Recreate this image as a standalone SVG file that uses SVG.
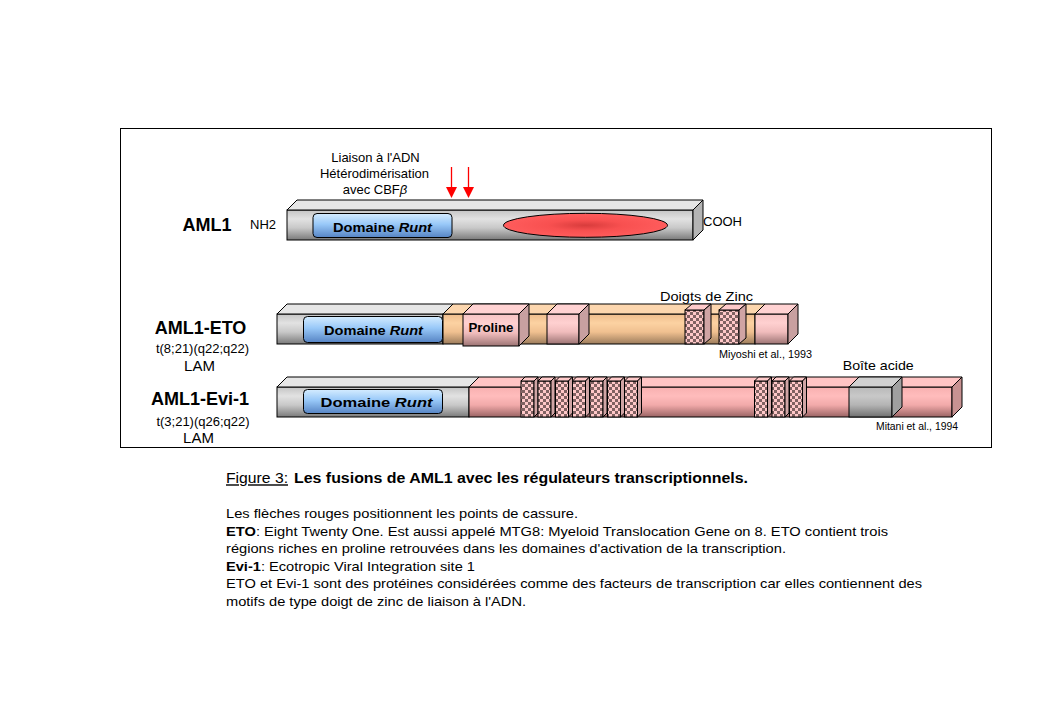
<svg xmlns="http://www.w3.org/2000/svg" width="1039" height="719" viewBox="0 0 1039 719">
<defs>
<style>
text{font-family:"Liberation Sans",Arial,sans-serif;fill:#000}
.e{stroke:#000;stroke-width:1;stroke-linejoin:miter}
.lbl{font-size:13px}
.ttl{font-size:18px;font-weight:bold}
.runt{font-size:13px;font-weight:bold}
.ref{font-size:11px}
.body{font-size:13px}
.gTop{fill:#e6e6e6}.gSide{fill:#b4b4b4}
.oTop{fill:#fcd6ae}.oSide{fill:#d0a880}
.pTop{fill:#ffd2d2}.pSide{fill:#c8a0a0}
.eTop{fill:#ffc4c4}.eSide{fill:#c89292}
.cTop{fill:#ffcaca}.cSide{fill:#d0a4a4}
.xTop{fill:#d0d0d0}.xSide{fill:#a0a0a0}
</style>
<linearGradient id="gGray" x1="0" y1="0" x2="0" y2="1">
<stop offset="0" stop-color="#c4c4c4"/><stop offset="0.3" stop-color="#e2e2e2"/><stop offset="0.6" stop-color="#c8c8c8"/><stop offset="1" stop-color="#7a7a7a"/>
</linearGradient>
<linearGradient id="gOrange" x1="0" y1="0" x2="0" y2="1">
<stop offset="0" stop-color="#eebc8c"/><stop offset="0.3" stop-color="#fcd2a2"/><stop offset="0.6" stop-color="#f0c090"/><stop offset="1" stop-color="#9c7c5c"/>
</linearGradient>
<linearGradient id="gPink" x1="0" y1="0" x2="0" y2="1">
<stop offset="0" stop-color="#f6c4c4"/><stop offset="0.3" stop-color="#ffd0d0"/><stop offset="0.6" stop-color="#f0bcbc"/><stop offset="1" stop-color="#9c7474"/>
</linearGradient>
<linearGradient id="gEvi" x1="0" y1="0" x2="0" y2="1">
<stop offset="0" stop-color="#f8b0b0"/><stop offset="0.3" stop-color="#ffbcbc"/><stop offset="0.6" stop-color="#f2aaaa"/><stop offset="1" stop-color="#9a6464"/>
</linearGradient>
<linearGradient id="gGreyBox" x1="0" y1="0" x2="0" y2="1">
<stop offset="0" stop-color="#b8b8b8"/><stop offset="0.3" stop-color="#c8c8c8"/><stop offset="0.6" stop-color="#b4b4b4"/><stop offset="1" stop-color="#707070"/>
</linearGradient>
<linearGradient id="gBlue" x1="0" y1="0" x2="0" y2="1">
<stop offset="0" stop-color="#d4ecff"/><stop offset="0.45" stop-color="#98c8f8"/><stop offset="1" stop-color="#5684c4"/>
</linearGradient>
<radialGradient id="gRed" cx="0.5" cy="0.5" r="0.5">
<stop offset="0" stop-color="#d83c3c"/><stop offset="0.45" stop-color="#f85050"/><stop offset="1" stop-color="#ff5c5c"/>
</radialGradient>
<pattern id="check" patternUnits="userSpaceOnUse" width="6" height="6">
<rect width="6" height="6" fill="#ffc8c8"/>
<rect width="3" height="3" fill="#806262"/>
<rect x="3" y="3" width="3" height="3" fill="#806262"/>
</pattern>
</defs>
<rect width="1039" height="719" fill="#fff"/>
<rect x="120.5" y="128.5" width="871" height="319" fill="none" stroke="#000" stroke-width="1"/>

<g id="labels">
<text class="lbl" x="375.5" y="161.7" text-anchor="middle">Liaison à l'ADN</text>
<text class="lbl" x="374.5" y="178.3" text-anchor="middle">Hétérodimérisation</text>
<text class="lbl" x="375" y="194" text-anchor="middle">avec CBF<tspan font-style="italic">β</tspan></text>
</g>

<g id="AML1">
<text class="ttl" x="207" y="231" text-anchor="middle">AML1</text>
<text class="lbl" x="250" y="229">NH2</text>
<text class="lbl" x="703" y="226">COOH</text>
<rect class="e" x="287" y="210" width="406" height="30" fill="url(#gGray)"/>
<polygon class="e gTop" points="287,210 297,200 703,200 693,210"/>
<polygon class="e gSide" points="693,210 703,200 703,230 693,240"/>
<rect class="e" x="313" y="213.5" width="139" height="24" rx="4" fill="url(#gBlue)" stroke="#1a2a40"/>
<text class="runt" x="333" y="231.5" font-size="14" textLength="99" lengthAdjust="spacingAndGlyphs">Domaine <tspan font-style="italic">Runt</tspan></text>
<ellipse class="e" cx="585.5" cy="225.3" rx="82" ry="12" fill="url(#gRed)"/>
</g>

<g id="AML1-ETO">
<text class="ttl" x="200.5" y="334.3" text-anchor="middle">AML1-ETO</text>
<text class="lbl" x="202.5" y="352.7" text-anchor="middle">t(8;21)(q22;q22)</text>
<text x="199.5" y="370.5" text-anchor="middle" font-size="15">LAM</text>
<rect class="e" x="277" y="314" width="166" height="30" fill="url(#gGray)"/>
<polygon class="e gTop" points="277,314 287,304 453,304 443,314"/>
<polygon class="e gSide" points="443,314 453,304 453,334 443,344"/>
<rect class="e" x="443" y="314" width="312" height="30" fill="url(#gOrange)"/>
<polygon class="e oTop" points="443,314 453,304 765,304 755,314"/>
<rect class="e" x="303.5" y="316.5" width="139" height="26" rx="4" fill="url(#gBlue)" stroke="#1a2a40"/>
<text class="runt" x="324" y="335" textLength="99" lengthAdjust="spacingAndGlyphs">Domaine <tspan font-style="italic">Runt</tspan></text>
<rect class="e" x="463" y="314" width="56" height="32" fill="url(#gPink)"/>
<polygon class="e pTop" points="463,314 473,304 529,304 519,314"/>
<polygon class="e pSide" points="519,314 529,304 529,336 519,346"/>
<text class="runt" x="468.5" y="332.3" textLength="45" lengthAdjust="spacingAndGlyphs">Proline</text>
<rect class="e" x="547" y="314" width="32" height="30" fill="url(#gPink)"/>
<polygon class="e pTop" points="547,314 557,304 589,304 579,314"/>
<polygon class="e pSide" points="579,314 589,304 589,334 579,344"/>
<rect class="e" x="685" y="310" width="19" height="34" fill="url(#check)"/>
<polygon class="e cTop" points="685,310 692,304 711,304 704,310"/>
<polygon class="e cSide" points="704,310 711,304 711,338 704,344"/>
<rect class="e" x="719" y="310" width="20" height="34" fill="url(#check)"/>
<polygon class="e cTop" points="719,310 726,304 746,304 739,310"/>
<polygon class="e cSide" points="739,310 746,304 746,338 739,344"/>
<rect class="e" x="755" y="314" width="33" height="30" fill="url(#gPink)"/>
<polygon class="e pTop" points="755,314 765,304 798,304 788,314"/>
<polygon class="e pSide" points="788,314 798,304 798,334 788,344"/>
<text class="lbl" x="660" y="300.7" textLength="93" lengthAdjust="spacingAndGlyphs">Doigts de Zinc</text>
<text class="ref" x="719" y="358" textLength="93" lengthAdjust="spacingAndGlyphs">Miyoshi et al., 1993</text>
</g>

<g id="AML1-Evi-1">
<text class="ttl" x="200" y="405" text-anchor="middle">AML1-Evi-1</text>
<text class="lbl" x="203" y="425.7" text-anchor="middle">t(3;21)(q26;q22)</text>
<text x="198.5" y="443.3" text-anchor="middle" font-size="15">LAM</text>
<rect class="e" x="277" y="387" width="192" height="30" fill="url(#gGray)"/>
<polygon class="e gTop" points="277,387 287,377 479,377 469,387"/>
<rect class="e" x="469" y="387" width="483" height="30" fill="url(#gEvi)"/>
<polygon class="e eTop" points="469,387 479,377 962,377 952,387"/>
<polygon class="e eSide" points="952,387 962,377 962,407 952,417"/>
<rect class="e" x="303.5" y="389.5" width="139" height="24" rx="4" fill="url(#gBlue)" stroke="#1a2a40"/>
<text class="runt" x="320.5" y="406.7" textLength="112" lengthAdjust="spacingAndGlyphs">Domaine <tspan font-style="italic">Runt</tspan></text>
<g id="evi-zinc-1">
<rect class="e" x="521" y="381" width="13" height="36" fill="url(#check)"/>
<polygon class="e cTop" points="521,381 525,377 538,377 534,381"/>
<polygon class="e cSide" points="534,381 538,377 538,413 534,417"/>
<rect class="e" x="538" y="381" width="13" height="36" fill="url(#check)"/>
<polygon class="e cTop" points="538,381 542,377 555,377 551,381"/>
<polygon class="e cSide" points="551,381 555,377 555,413 551,417"/>
<rect class="e" x="555.5" y="381" width="13" height="36" fill="url(#check)"/>
<polygon class="e cTop" points="555.5,381 559.5,377 572.5,377 568.5,381"/>
<polygon class="e cSide" points="568.5,381 572.5,377 572.5,413 568.5,417"/>
<rect class="e" x="572.5" y="381" width="13" height="36" fill="url(#check)"/>
<polygon class="e cTop" points="572.5,381 576.5,377 589.5,377 585.5,381"/>
<polygon class="e cSide" points="585.5,381 589.5,377 589.5,413 585.5,417"/>
<rect class="e" x="590" y="381" width="13" height="36" fill="url(#check)"/>
<polygon class="e cTop" points="590,381 594,377 607,377 603,381"/>
<polygon class="e cSide" points="603,381 607,377 607,413 603,417"/>
<rect class="e" x="607.5" y="381" width="13" height="36" fill="url(#check)"/>
<polygon class="e cTop" points="607.5,381 611.5,377 624.5,377 620.5,381"/>
<polygon class="e cSide" points="620.5,381 624.5,377 624.5,413 620.5,417"/>
<rect class="e" x="624.5" y="381" width="13" height="36" fill="url(#check)"/>
<polygon class="e cTop" points="624.5,381 628.5,377 641.5,377 637.5,381"/>
<polygon class="e cSide" points="637.5,381 641.5,377 641.5,413 637.5,417"/>
</g>
<g id="evi-zinc-2">
<rect class="e" x="754.5" y="381" width="13" height="36" fill="url(#check)"/>
<polygon class="e cTop" points="754.5,381 758.5,377 771.5,377 767.5,381"/>
<polygon class="e cSide" points="767.5,381 771.5,377 771.5,413 767.5,417"/>
<rect class="e" x="772" y="381" width="13" height="36" fill="url(#check)"/>
<polygon class="e cTop" points="772,381 776,377 789,377 785,381"/>
<polygon class="e cSide" points="785,381 789,377 789,413 785,417"/>
<rect class="e" x="789.5" y="381" width="13" height="36" fill="url(#check)"/>
<polygon class="e cTop" points="789.5,381 793.5,377 806.5,377 802.5,381"/>
<polygon class="e cSide" points="802.5,381 806.5,377 806.5,413 802.5,417"/>
</g>
<rect class="e" x="849" y="387" width="43" height="30" fill="url(#gGreyBox)"/>
<polygon class="e xTop" points="849,387 859,377 902,377 892,387"/>
<polygon class="e xSide" points="892,387 902,377 902,407 892,417"/>
<text class="lbl" x="842.7" y="370" textLength="71" lengthAdjust="spacingAndGlyphs">Boîte acide</text>
<text class="ref" x="876" y="430" textLength="82" lengthAdjust="spacingAndGlyphs">Mitani et al., 1994</text>
</g>

<g id="connectors" fill="#ff0000" stroke="#ff0000">
<line x1="451.5" y1="167" x2="451.5" y2="188" stroke-width="1.3"/>
<polygon points="446,187 457,187 451.5,198" stroke="none"/>
<line x1="468.5" y1="167" x2="468.5" y2="188" stroke-width="1.3"/>
<polygon points="463,187 474,187 468.5,198" stroke="none"/>
</g>

<g id="caption">
<text x="226" y="483.3" font-size="14" text-decoration="underline" textLength="62" lengthAdjust="spacingAndGlyphs">Figure 3:</text>
<text x="294" y="483.3" font-size="14" font-weight="bold" textLength="454" lengthAdjust="spacingAndGlyphs">Les fusions de AML1 avec les régulateurs transcriptionnels.</text>
<text class="body" x="226" y="518.3" textLength="352" lengthAdjust="spacingAndGlyphs">Les flèches rouges positionnent les points de cassure.</text>
<text class="body" x="226" y="535.7" textLength="662" lengthAdjust="spacingAndGlyphs"><tspan font-weight="bold">ETO</tspan>: Eight Twenty One. Est aussi appelé MTG8: Myeloid Translocation Gene on 8. ETO contient trois</text>
<text class="body" x="226" y="553.3" textLength="560" lengthAdjust="spacingAndGlyphs">régions riches en proline retrouvées dans les domaines d'activation de la transcription.</text>
<text class="body" x="226" y="571" textLength="249" lengthAdjust="spacingAndGlyphs"><tspan font-weight="bold">Evi-1</tspan>: Ecotropic Viral Integration site 1</text>
<text class="body" x="226" y="588.3" textLength="696" lengthAdjust="spacingAndGlyphs">ETO et Evi-1 sont des protéines considérées comme des facteurs de transcription car elles contiennent des</text>
<text class="body" x="226" y="606" textLength="300" lengthAdjust="spacingAndGlyphs">motifs de type doigt de zinc de liaison à l'ADN.</text>
</g>
</svg>
